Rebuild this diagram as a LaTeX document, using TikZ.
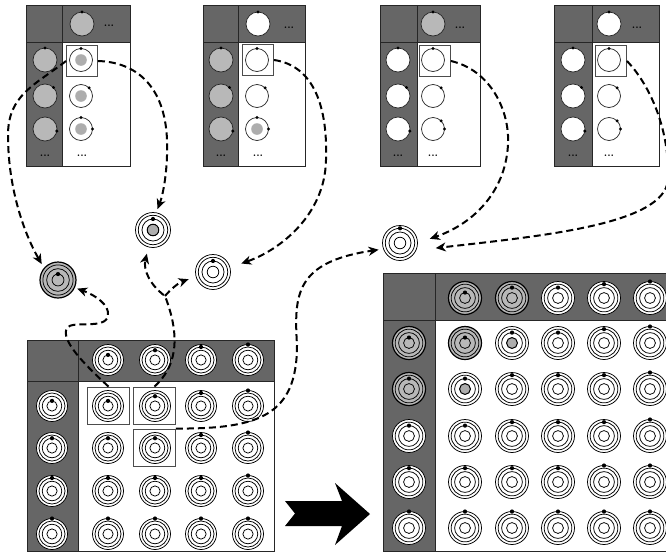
\documentclass[tikz,border=0pt]{standalone}
\usetikzlibrary{arrows.meta}
\definecolor{panelgray}{gray}{0.40}
\definecolor{symgray}{gray}{0.72}
\definecolor{coregray}{gray}{0.68}

% ring levels (fraction of the outer radius)
\newcommand{\lvA}{0.33}
\newcommand{\lvB}{0.63}
\newcommand{\lvC}{0.84}
\newcommand{\lvD}{1}

% concentric symbol: name, x, y, outer radius, disk style, core style, dot level
\newcommand{\concsym}[7]{%
  \node[csym,minimum size=2pt*#4,#5] (#1) at (#2,#3) {};
  \draw[ring] (#1.center) circle[radius=0.84pt*#4] circle[radius=0.63pt*#4];
  \draw[ring,#6] (#1.center) circle[radius=0.33pt*#4];
  \fill (#1.center) ++(0,{-#7*#4}) circle[radius=2.1pt];
}

% small table: left edge, column divider, right edge
\newcommand{\toppanel}[3]{%
  \fill[panelgray] (#1,5) rectangle (#3,42);
  \fill[panelgray] (#1,42) rectangle (#2,166);
  \draw[frame] (#1,5) rectangle (#3,166);
  \draw[frame] (#1,42) -- (#3,42) (#2,5) -- (#2,166);
}

\begin{document}
\begin{tikzpicture}[x=1pt,y=-1pt,
  frame/.style={draw=black!85,line width=0.9pt},
  pcirc/.style={circle,draw=black!85,line width=0.7pt,minimum size=24pt,inner sep=0pt,outer sep=0pt,fill=white},
  pcircs/.style={pcirc,minimum size=23pt},
  hibox/.style={draw=black!70,line width=0.9pt,minimum width=31pt,minimum height=31pt,inner sep=0pt},
  hiboxL/.style={draw=black!70,line width=0.9pt,minimum width=42pt,minimum height=37pt,inner sep=0pt},
  dotsnode/.style={font=\fontsize{11}{11}\selectfont\bfseries,inner sep=0pt},
  csym/.style={circle,draw=black,line width=0.75pt,inner sep=0pt,outer sep=0pt,fill=white},
  graysym/.style={fill=symgray,line width=1.2pt},
  ring/.style={draw=black,line width=0.75pt},
  graycore/.style={fill=coregray,line width=1pt},
  plaincore/.style={},
  flow/.style={line width=2pt,dash pattern=on 7pt off 4pt,
    -{Stealth[length=10pt,width=9pt,inset=3pt]}},
]
\useasboundingbox (0,0) rectangle (666,552);
\fill[white] (0,0) rectangle (666,552);

% ---------------- four small tables ----------------
\toppanel{26}{62}{130}
\node[pcirc,fill=symgray] (p1h) at (82,24) {};
\node[dotsnode] (p1hd) at (109,26) {...};
\node[pcirc,fill=symgray] (p1l1) at (45,60) {};
\node[pcirc,fill=symgray] (p1l2) at (45,96) {};
\node[pcirc,fill=symgray] (p1l3) at (45,129) {};
\node[dotsnode] (p1ld) at (45,156) {...};
\node[pcircs] (p1r1) at (81,60) {};
\node[pcircs] (p1r2) at (81,96) {};
\node[pcircs] (p1r3) at (81,129) {};
\node[dotsnode] (p1rd) at (82,156) {...};
\fill[coregray] (p1r1.center) circle[radius=5.8pt] (p1r2.center) circle[radius=5.8pt] (p1r3.center) circle[radius=5.8pt];
\node[hibox] (p1b) at (82,61) {};
\foreach \n/\a in {p1h/90,p1l1/90,p1l2/45,p1l3/-10,p1r1/90,p1r2/45,p1r3/90,p1r3/0}
  \fill (\n.\a) circle[radius=1.7pt];

\toppanel{203}{238}{305}
\node[pcirc] (p2h) at (258,24) {};
\node[dotsnode] (p2hd) at (289,28) {...};
\node[pcirc,fill=symgray] (p2l1) at (221,60) {};
\node[pcirc,fill=symgray] (p2l2) at (221,96) {};
\node[pcirc,fill=symgray] (p2l3) at (221,129) {};
\node[dotsnode] (p2ld) at (221,156) {...};
\node[pcircs] (p2r1) at (257,60) {};
\node[pcircs] (p2r2) at (257,96) {};
\node[pcircs] (p2r3) at (257,129) {};
\node[dotsnode] (p2rd) at (258,156) {...};
\fill[coregray] (p2r3.center) circle[radius=5.8pt];
\node[hibox] (p2b) at (258,60) {};
\foreach \n/\a in {p2h/90,p2l1/90,p2l2/45,p2l3/-10,p2r1/90,p2r2/45,p2r3/90,p2r3/0}
  \fill (\n.\a) circle[radius=1.7pt];

\toppanel{380}{417}{480}
\node[pcirc,fill=symgray] (p3h) at (433,24) {};
\node[dotsnode] (p3hd) at (460,28) {...};
\node[pcirc] (p3l1) at (398,60) {};
\node[pcirc] (p3l2) at (398,96) {};
\node[pcirc] (p3l3) at (398,129) {};
\node[dotsnode] (p3ld) at (398,156) {...};
\node[pcircs] (p3r1) at (433,60) {};
\node[pcircs] (p3r2) at (433,96) {};
\node[pcircs] (p3r3) at (433,129) {};
\node[dotsnode] (p3rd) at (433,156) {...};
\node[hibox] (p3b) at (435,61) {};
\foreach \n/\a in {p3h/90,p3l1/90,p3l2/45,p3l3/-10,p3r1/90,p3r2/45,p3r3/45,p3r3/0}
  \fill (\n.\a) circle[radius=1.7pt];

\toppanel{554}{592}{659}
\node[pcirc] (p4h) at (609,24) {};
\node[dotsnode] (p4hd) at (637,28) {...};
\node[pcirc] (p4l1) at (573,60) {};
\node[pcirc] (p4l2) at (573,96) {};
\node[pcirc] (p4l3) at (573,129) {};
\node[dotsnode] (p4ld) at (573,156) {...};
\node[pcircs] (p4r1) at (609,60) {};
\node[pcircs] (p4r2) at (609,96) {};
\node[pcircs] (p4r3) at (609,129) {};
\node[dotsnode] (p4rd) at (609,156) {...};
\node[hibox] (p4b) at (611,61) {};
\foreach \n/\a in {p4h/90,p4l1/90,p4l2/45,p4l3/-10,p4r1/90,p4r2/45,p4r3/45,p4r3/0}
  \fill (\n.\a) circle[radius=1.7pt];

% ---------------- combined symbols in between ----------------
\concsym{sA}{58}{280}{18}{graysym}{plaincore}{\lvA}
\concsym{sB}{153}{230}{17.5}{}{graycore}{\lvB}
\concsym{sC}{213}{272}{17.5}{}{plaincore}{\lvB}
\concsym{sD}{400}{243}{17.5}{}{plaincore}{\lvC}

% ---------------- lower left table ----------------
\fill[panelgray] (27,340) rectangle (274,381);
\fill[panelgray] (27,381) rectangle (78,551);
\draw[frame] (27,340) rectangle (274,551);
\draw[frame] (27,381) -- (274,381) (78,340) -- (78,551);

\concsym{lh1}{108}{360}{15.5}{}{}{\lvA}
\concsym{lh2}{155}{360}{15.5}{}{}{\lvB}
\concsym{lh3}{201}{360}{15.5}{}{}{\lvC}
\concsym{lh4}{248}{360}{15.5}{}{}{\lvD}
\concsym{ll1}{52}{406}{15.5}{}{}{\lvA}
\concsym{ll2}{52}{448}{15.5}{}{}{\lvB}
\concsym{ll3}{52}{491}{15.5}{}{}{\lvC}
\concsym{ll4}{52}{534}{15.5}{}{}{\lvD}

\concsym{l11}{108}{406}{15.5}{}{}{\lvA}
\concsym{l12}{155}{406}{15.5}{}{}{\lvB}
\concsym{l13}{201}{406}{15.5}{}{}{\lvC}
\concsym{l14}{248}{406}{15.5}{}{}{\lvD}
\concsym{l21}{108}{448}{15.5}{}{}{\lvB}
\concsym{l22}{155}{448}{15.5}{}{}{\lvB}
\concsym{l23}{201}{448}{15.5}{}{}{\lvC}
\concsym{l24}{248}{448}{15.5}{}{}{\lvD}
\concsym{l31}{108}{491}{15.5}{}{}{\lvC}
\concsym{l32}{155}{491}{15.5}{}{}{\lvC}
\concsym{l33}{201}{491}{15.5}{}{}{\lvC}
\concsym{l34}{248}{491}{15.5}{}{}{\lvD}
\concsym{l41}{108}{534}{15.5}{}{}{\lvD}
\concsym{l42}{155}{534}{15.5}{}{}{\lvD}
\concsym{l43}{201}{534}{15.5}{}{}{\lvD}
\concsym{l44}{248}{534}{15.5}{}{}{\lvD}

\node[hiboxL] (bA) at (108.5,405.5) {};
\node[hiboxL] (bB) at (154.5,405.5) {};
\node[hiboxL] (bC) at (154.5,447.5) {};

% ---------------- block arrow ----------------
\fill (285,501) -- (342,501) -- (335,483) -- (370,514) -- (335,545) -- (342,526)
  -- (285,526) -- (295,513.5) -- cycle;

% ---------------- lower right table ----------------
\fill[panelgray] (383,273) rectangle (670,320);
\fill[panelgray] (383,320) rectangle (435,551);
\draw[frame] (670,273) -- (383,273) -- (383,551) -- (670,551);
\draw[frame] (383,320) -- (670,320) (435,273) -- (435,551);

\concsym{rh1}{465}{298}{16.5}{graysym}{}{\lvA}
\concsym{rh2}{512}{298}{16.5}{graysym}{}{\lvB}
\concsym{rh3}{558}{298}{16.5}{}{}{\lvB}
\concsym{rh4}{604}{298}{16.5}{}{}{\lvC}
\concsym{rh5}{650}{298}{16.5}{}{}{\lvD}
\concsym{rl1}{409}{343}{16.5}{graysym}{}{\lvA}
\concsym{rl2}{409}{389}{16.5}{graysym}{}{\lvB}
\concsym{rl3}{409}{436}{16.5}{}{}{\lvB}
\concsym{rl4}{409}{482}{16.5}{}{}{\lvC}
\concsym{rl5}{409}{528}{16.5}{}{}{\lvD}

\concsym{r11}{465}{343}{16.5}{graysym}{}{\lvA}
\concsym{r12}{512}{343}{16.5}{}{graycore}{\lvB}
\concsym{r13}{558}{343}{16.5}{}{}{\lvB}
\concsym{r14}{604}{343}{16.5}{}{}{\lvC}
\concsym{r15}{650}{343}{16.5}{}{}{\lvD}
\concsym{r21}{465}{389}{16.5}{}{graycore}{\lvB}
\concsym{r22}{512}{389}{16.5}{}{}{\lvC}
\concsym{r23}{558}{389}{16.5}{}{}{\lvC}
\concsym{r24}{604}{389}{16.5}{}{}{\lvC}
\concsym{r25}{650}{389}{16.5}{}{}{\lvD}
\concsym{r31}{465}{436}{16.5}{}{}{\lvB}
\concsym{r32}{512}{436}{16.5}{}{}{\lvC}
\concsym{r33}{558}{436}{16.5}{}{}{\lvC}
\concsym{r34}{604}{436}{16.5}{}{}{\lvC}
\concsym{r35}{650}{436}{16.5}{}{}{\lvD}
\concsym{r41}{465}{482}{16.5}{}{}{\lvC}
\concsym{r42}{512}{482}{16.5}{}{}{\lvC}
\concsym{r43}{558}{482}{16.5}{}{}{\lvC}
\concsym{r44}{604}{482}{16.5}{}{}{\lvD}
\concsym{r45}{650}{482}{16.5}{}{}{\lvD}
\concsym{r51}{465}{528}{16.5}{}{}{\lvD}
\concsym{r52}{512}{528}{16.5}{}{}{\lvD}
\concsym{r53}{558}{528}{16.5}{}{}{\lvD}
\concsym{r54}{604}{528}{16.5}{}{}{\lvD}
\concsym{r55}{650}{528}{16.5}{}{}{\lvD}

% ---------------- dashed connectors ----------------
\coordinate (fork) at (165,296);

\draw[flow,shorten >=5pt] (p1b.west) .. controls (35,85) and (8,95) .. (8,135)
  .. controls (8,190) and (25,235) .. (sA.140);
\draw[flow,shorten >=4pt] (p1b.east) .. controls (135,62) and (165,85) .. (167,140)
  .. controls (168,170) and (163,195) .. (sB.80);
\draw[flow,shorten >=12pt] (p2b.east) .. controls (310,65) and (328,100) .. (326,160)
  .. controls (325,215) and (280,250) .. (sC.15);
\draw[flow,shorten >=13pt] (p3b.east) .. controls (490,70) and (510,110) .. (508,145)
  .. controls (505,195) and (470,225) .. (sD.0);
\draw[flow,shorten >=20pt] (p4b.east) .. controls (650,85) and (670,130) .. (668,180)
  .. controls (664,225) and (540,236) .. (sD.-25);

\draw[flow,shorten >=3pt] (bA.north) .. controls (85,365) and (60,340) .. (67,328)
  .. controls (72,320) and (105,330) .. (108,316)
  .. controls (110,305) and (95,295) .. (sA.-25);
\draw[flow,shorten >=7pt] (bB.north) .. controls (175,368) and (182,340) .. (fork)
  .. controls (150,285) and (143,270) .. (sB.255);
\draw[flow,shorten >=8pt] (fork) .. controls (170,290) and (178,283) .. (sC.195);
\draw[flow,shorten >=5pt] (bC.north east) .. controls (260,429) and (297,415) .. (297,345)
  .. controls (294,295) and (295,262) .. (sD.200);
\end{tikzpicture}
\end{document}
